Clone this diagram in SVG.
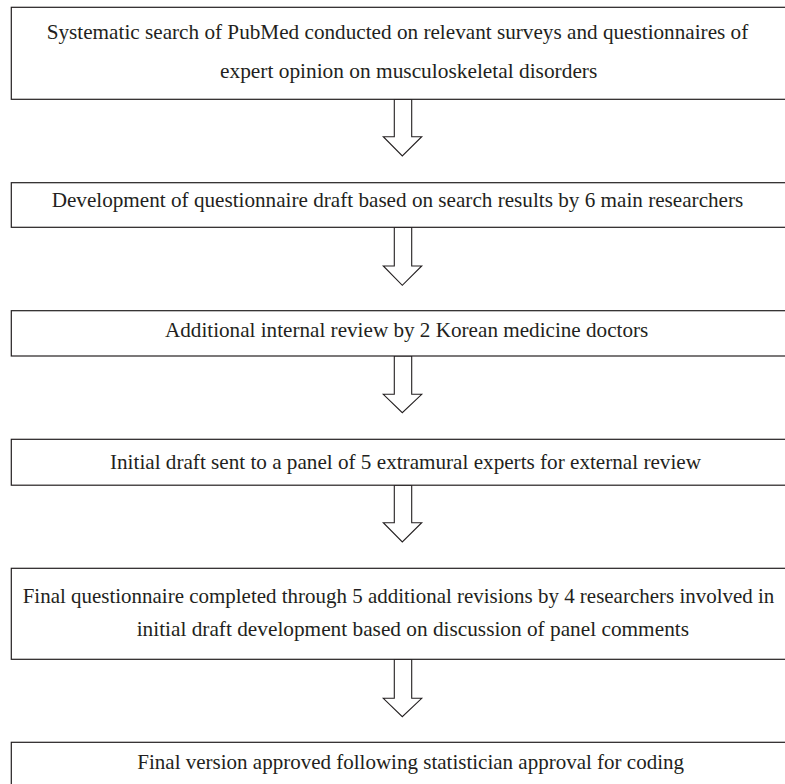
<svg xmlns="http://www.w3.org/2000/svg" width="785" height="784" viewBox="0 0 785 784">
<style>
.box{fill:#fff;stroke:#231f20;stroke-width:1.2}
.arr{fill:#fff;stroke:#231f20;stroke-width:1.1;stroke-linejoin:miter}
text{font-family:"Liberation Serif","Times New Roman",serif;font-size:21px;fill:#231f20}
</style>
<rect width="785" height="784" fill="#fff"/>
<g id="connectors">
<polygon class="arr" points="394.3,99.3 411.7,99.3 411.7,136.7 421.7,136.7 402.3,156 383.3,136.7 394.3,136.7"/>
<polygon class="arr" points="394.3,227.3 411.7,227.3 411.7,266 421.7,266 402.3,285.3 383.3,266 394.3,266"/>
<polygon class="arr" points="394.3,356 411.7,356 411.7,394.3 421.7,394.3 402.3,412.7 383.3,394.3 394.3,394.3"/>
<polygon class="arr" points="394.3,485.3 411.7,485.3 411.7,522.7 421.7,522.7 402.3,542 383.3,522.7 394.3,522.7"/>
<polygon class="arr" points="394.3,659.3 411.7,659.3 411.7,698.3 421.7,698.3 402.3,716.7 383.3,698.3 394.3,698.3"/>
</g>
<g id="n1">
<rect class="box" x="11.3" y="7.3" width="780" height="92"/>
<text x="46.7" y="39.3" textLength="701.6" lengthAdjust="spacingAndGlyphs">Systematic search of PubMed conducted on relevant surveys and questionnaires of</text>
<text x="220" y="78.3" textLength="377.3" lengthAdjust="spacingAndGlyphs">expert opinion on musculoskeletal disorders</text>
</g>
<g id="n2">
<rect class="box" x="11.3" y="182.7" width="780" height="44.6"/>
<text x="51.7" y="206.7" textLength="691.6" lengthAdjust="spacingAndGlyphs">Development of questionnaire draft based on search results by 6 main researchers</text>
</g>
<g id="n3">
<rect class="box" x="11.3" y="310.7" width="780" height="45.3"/>
<text x="165" y="336.7" textLength="483.3" lengthAdjust="spacingAndGlyphs">Additional internal review by 2 Korean medicine doctors</text>
</g>
<g id="n4">
<rect class="box" x="11.3" y="439.3" width="780" height="45.9"/>
<text x="110" y="469.3" textLength="591" lengthAdjust="spacingAndGlyphs">Initial draft sent to a panel of 5 extramural experts for external review</text>
</g>
<g id="n5">
<rect class="box" x="11.3" y="568.3" width="780" height="91"/>
<text x="22.7" y="602.7" textLength="751.6" lengthAdjust="spacingAndGlyphs">Final questionnaire completed through 5 additional revisions by 4 researchers involved in</text>
<text x="136.7" y="636" textLength="552.3" lengthAdjust="spacingAndGlyphs">initial draft development based on discussion of panel comments</text>
</g>
<g id="n6">
<rect class="box" x="11.3" y="742.3" width="780" height="60"/>
<text x="137.3" y="769.3" textLength="546.7" lengthAdjust="spacingAndGlyphs">Final version approved following statistician approval for coding</text>
</g>
</svg>
